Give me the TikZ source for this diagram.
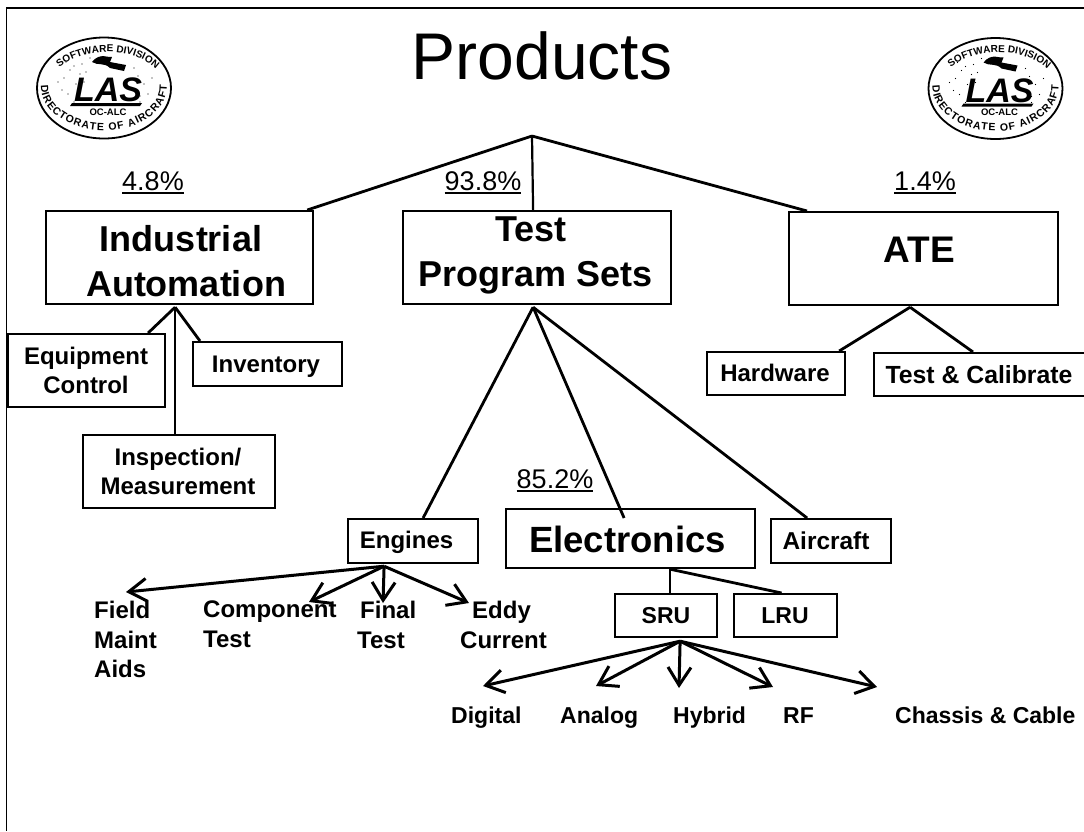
\documentclass[tikz,border=0pt]{standalone}
\usepackage{fontspec}
\setmainfont{Liberation Sans}
\usetikzlibrary{decorations.text,arrows.meta}
\newcommand{\fs}[2]{\fontsize{#1}{#2}\selectfont}
\newcommand{\ulpct}[1]{\setbox0\hbox{#1}\rlap{\rule[-4pt]{\wd0}{1.8pt}}\box0}
\tikzset{
 x=1pt,y=-1pt,
 conn/.style={line width=2.8pt,black},
 thin conn/.style={line width=2.2pt,black},
 arr/.style={line width=3pt,black,-{Straight Barb[length=18pt,width=23pt,line width=3pt]}},
 box/.style={draw,line width=2.2pt,inner sep=0pt,anchor=north west},
 btxt/.style={align=center,inner sep=0pt,font=\bfseries},
 stxt/.style={inner sep=0pt,anchor=base,font=\bfseries},
 lab/.style={align=left,anchor=north west,inner sep=0pt,font=\bfseries\fs{24}{29.5}},
 leaf/.style={anchor=base west,inner sep=0pt,font=\bfseries\fs{23}{28}},
 pct/.style={anchor=base,font=\fs{27}{30},inner sep=0pt},
}
\newcommand{\logo}[2]{%
 \begin{scope}[shift={(#1,#2)}]
  \draw[line width=1.8pt] (0,0) ellipse [x radius=67,y radius=50.5];
  \path[decorate,decoration={text along path,text align=fit to path,text={|\bfseries\fs{10}{10}|SOFTWARE DIVISION}}]
     (-44.5,-20.6) arc[start angle=215,end angle=325,x radius=58,y radius=36];
  \path[decorate,decoration={text along path,text align=fit to path,text={|\bfseries\fs{10.5}{11}|DIRECTORATE OF AIRCRAFT}}]
     (-63,-3) arc[start angle=182,end angle=-2,x radius=63,y radius=44];
  \fill (-12,-26) .. controls (-4,-36) and (4,-30) .. (8,-31) -- (6,-26) -- (22,-23) -- (20,-17) -- (6,-20) .. controls (0,-26) and (-6,-22) .. cycle;
  \foreach \a/\b in {-40/-10,-34/-18,-28/-4,-24/-14,-42/2,-36/6,-30/-22,-22/-24,-20/-6,-46/-6,-26/8,-38/-26,-18/-16,34/-12,40/-4,44/6,36/8,48/-10,30/-20,-30/14,36/14,-14/-30}
   \fill (\a,\b) circle (0.7);
  \node[font=\bfseries\itshape\fs{34}{34},inner sep=0pt] at (4,2) {LAS};
  \fill (-32,15) -- (38,15) -- (36,18) -- (-34,18) -- cycle;
  \node[font=\bfseries\fs{9.5}{10},inner sep=0pt] at (4,24) {OC-ALC};
 \end{scope}}
\begin{document}
\begin{tikzpicture}
\useasboundingbox (0,0) rectangle (1084,831);
\fill[white] (0,0) rectangle (1084,831);
\draw[line width=1.8pt] (1084,8) -- (6.5,8) -- (6.5,831);
\logo{104}{88}
\logo{995.5}{88.5}
\node[anchor=base,font=\fs{66}{70},inner sep=0pt] (title) at (542,79) {Products};
\coordinate (top) at (532,136);
% percentages
\node[pct] (p1) at (153,190) {\ulpct{4.8\%}};
\node[pct] (p2) at (483,190) {\ulpct{93.8\%}};
\node[pct] (p3) at (925,190) {\ulpct{1.4\%}};
\node[pct] (p4) at (555,488) {\ulpct{85.2\%}};
% boxes
\node[box,minimum width=267,minimum height=93] (ind) at (45,210) {};
\node[box,minimum width=268,minimum height=93] (tps) at (402,210) {};
\node[box,minimum width=269,minimum height=93] (ate) at (788,211) {};
\node[box,minimum width=157,minimum height=73] (eq) at (7,333) {};
\node[box,minimum width=149,minimum height=44] (inv) at (192,341) {};
\node[box,minimum width=192,minimum height=73] (ins) at (82,434) {};
\node[box,minimum width=138,minimum height=43] (hw) at (706,351) {};
\node[box,minimum width=215,minimum height=43] (tc) at (873,352) {};
\node[box,minimum width=130,minimum height=44] (eng) at (347,518) {};
\node[box,minimum width=249,minimum height=59] (ele) at (505,508) {};
\node[box,minimum width=120,minimum height=44] (air) at (770,518) {};
\node[box,minimum width=102,minimum height=43] (sru) at (614,593) {};
\node[box,minimum width=103,minimum height=43] (lru) at (733,593) {};
% box texts
\node[btxt,font=\bfseries\fs{36}{45}] (indt) at (186,261.5) {Industrial\hspace*{10pt}\\Automation};
\node[btxt,font=\bfseries\fs{36}{45}] (tpst) at (536,255.5) {Test\hspace*{10pt}\\Program Sets};
\node[stxt,font=\bfseries\fs{37}{40}] (atet) at (919.5,262) {ATE};
\node[btxt,font=\bfseries\fs{24}{29}] (eqt) at (86,370) {Equipment\\Control};
\node[stxt,font=\bfseries\fs{24}{29}] (invt) at (266,372) {Inventory};
\node[btxt,font=\bfseries\fs{24}{29}] (inst) at (178,471) {Inspection/\\Measurement};
\node[stxt,font=\bfseries\fs{24}{29}] (hwt) at (775,381) {Hardware};
\node[stxt,font=\bfseries\fs{24.8}{29}] (tct) at (979,383) {Test \& Calibrate};
\node[stxt,font=\bfseries\fs{24}{29}] (engt) at (406.5,548) {Engines};
\node[stxt,font=\bfseries\fs{36.5}{40}] (elet) at (627.5,552) {Electronics};
\node[stxt,font=\bfseries\fs{24.4}{29}] (airt) at (826,549) {Aircraft};
\node[stxt,font=\bfseries\fs{23}{29}] (srut) at (666,623) {SRU};
\node[stxt,font=\bfseries\fs{23}{29}] (lrut) at (785,623) {LRU};
% connectors
\draw[conn] ([xshift=-7pt]ind.north east) -- (top);
\draw[conn] (top) -- ([xshift=19pt]ate.north west);
\draw[thin conn] (top) -- ([xshift=-4pt]tps.north);
\coordinate (tpsB) at ([xshift=-4pt,yshift=-2pt]tps.south);
\draw[conn] (tpsB) -- ([xshift=10pt]eng.north);
\draw[conn] (tpsB) -- ([xshift=-6.5pt,yshift=-10pt]ele.north);
\draw[conn] (tpsB) -- ([xshift=-24pt]air.north);
\coordinate (indB) at ([xshift=-4.5pt,yshift=-2pt]ind.south);
\draw[conn] (indB) -- ([xshift=61.5pt]eq.north);
\draw[conn] (indB) -- ([xshift=8pt]inv.north west);
\draw[thin conn] (indB) -- ([xshift=-4pt]ins.north);
\coordinate (ateB) at ([xshift=-13.5pt,yshift=-1pt]ate.south);
\draw[conn] (ateB) -- ([xshift=-7pt]hw.north east);
\draw[conn] (ateB) -- ([xshift=100pt]tc.north west);
\coordinate (eleB) at ([xshift=39.5pt]ele.south);
\draw[thin conn] (eleB) -- ([xshift=4pt]sru.north);
\draw[conn] (eleB) -- ([xshift=-4pt]lru.north);
% leaf labels
\node[lab] (f1) at (94,601) {Field\\Maint\\Aids};
\node[lab] (f2) at (203,601) {Component\\Test};
\node[lab] (f3) at (357,601) {\hspace*{3pt}Final\\Test};
\node[lab] (f4) at (460,601) {\hspace*{12pt}Eddy\\Current};
\node[leaf] (d1) at (451,723) {Digital};
\node[leaf] (d2) at (560,723) {Analog};
\node[leaf] (d3) at (673,723) {Hybrid};
\node[leaf] (d4) at (783,723) {RF};
\node[leaf] (d5) at (895,723) {Chassis \& Cable};
% arrows
\coordinate (engB) at ([xshift=-29pt,yshift=-2pt]eng.south);
\coordinate (sruB) at ([xshift=14pt,yshift=-3pt]sru.south);
\coordinate (t1) at (126,592);
\coordinate (t2) at (309,602);
\coordinate (t3) at (383,603);
\coordinate (t4) at (469,603);
\coordinate (t5) at (483,686);
\coordinate (t6) at (596,686);
\coordinate (t7) at (679,688);
\coordinate (t8) at (773,687);
\coordinate (t9) at (877,687);
\foreach \t in {t1,t2,t3,t4} \draw[arr] (engB) -- (\t);
\foreach \t in {t5,t6,t7,t8,t9} \draw[arr] (sruB) -- (\t);
\end{tikzpicture}
\end{document}
